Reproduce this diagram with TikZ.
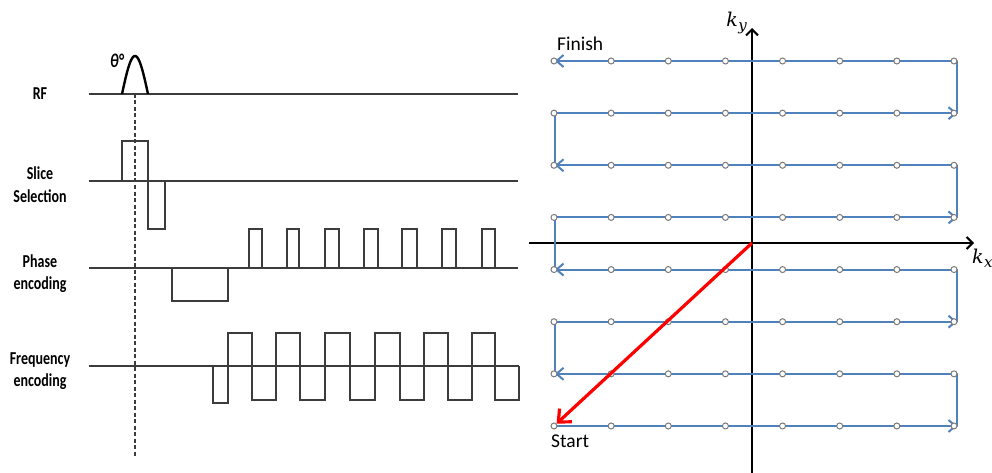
\documentclass[tikz,border=0pt]{standalone}
\usepackage{fontspec}
\setmainfont{Carlito}
\newfontfamily\kfont{DejaVu Serif}
\usetikzlibrary{arrows.meta}
\definecolor{kblue}{HTML}{4F81BD}
\definecolor{sig}{HTML}{3C3C3C}
\definecolor{dotgray}{HTML}{7A7A7A}
\newcommand{\siglabel}[1]{\scalebox{1}[1.3]{\begin{tabular}{@{}c@{}}#1\end{tabular}}}
\newcommand{\kvar}[1]{{\kfont\itshape\fontsize{19}{20}\selectfont k\kern0.5pt\raisebox{-4pt}{\fontsize{15}{16}\selectfont #1}}}
\begin{document}
\begin{tikzpicture}[x=1pt,y=-1pt,
  sigwave/.style={draw=sig,line width=1.2pt,line join=miter},
  rfpulse/.style={draw=black,line width=2.4pt},
  timemark/.style={draw=sig,line width=1.1pt,dash pattern=on 4pt off 2.5pt},
  chanlabel/.style={font=\fontsize{14}{17}\selectfont\bfseries,inner sep=0pt,anchor=center},
  kaxis/.style={draw=black,line width=2pt,-{Straight Barb[length=6pt,width=12pt]}},
  kline/.style={draw=kblue,line width=2pt,-{Straight Barb[length=7pt,width=12pt]}},
  kjoin/.style={draw=kblue,line width=2pt,line cap=round},
  kpt/.style={circle,draw=dotgray,fill=white,line width=1pt,minimum size=6pt,inner sep=0pt},
  ktext/.style={font=\fontsize{19.5}{22}\selectfont,inner sep=0pt},
  kmath/.style={inner sep=0pt},
  traj/.style={draw=red,line width=3.2pt,-{Straight Barb[length=10pt,width=18pt]}},
]
\useasboundingbox (0,0) rectangle (992,473);

% ---------- pulse sequence ----------
\node[chanlabel] (lrf) at (40,94.6) {\siglabel{RF}};
\node[chanlabel] (lss) at (40,186.6) {\siglabel{Slice\\Selection}};
\node[chanlabel] (lpe) at (40,274.5) {\siglabel{Phase\\encoding}};
\node[chanlabel] (lfe) at (40,371) {\siglabel{Frequency\\encoding}};
\node[font=\fontsize{15}{16}\selectfont\bfseries\itshape,inner sep=0pt] (theta) at (117,61) {\scalebox{1}[1.3]{θ°}};

% RF
\draw[sigwave] (89,94) -- (518,94);
\draw[rfpulse] plot[domain=0:1,samples=40,smooth] ({122+26*\x},{94-38*sin(180*\x)});
\draw[timemark] (135,94) -- (135,457);

% Slice selection
\draw[sigwave] (89,181) -- (518,181);
\draw[sigwave] (122,181) -- (122,141) -- (148,141) -- (148,229) -- (165,229) -- (165,181);

% Phase encoding
\draw[sigwave] (89,268) -- (518,268);
\draw[sigwave] (172,268) -- (172,301) -- (228,301) -- (228,268);
\foreach \a/\b in {249/262,287/299,325/339,364/378,402/417,442/456,482/495}
  \draw[sigwave] (\a,268) -- (\a,229) -- (\b,229) -- (\b,268);

% Frequency encoding
\draw[sigwave] (89,366) -- (519,366);
\draw[sigwave] (213,366) -- (213,403) -- (228,403) -- (228,333) -- (252,333) -- (252,400)
  -- (276,400) -- (276,333) -- (300,333) -- (300,400) -- (325,400) -- (325,333)
  -- (350,333) -- (350,400) -- (375,400) -- (375,333) -- (400,333) -- (400,400)
  -- (424,400) -- (424,333) -- (448,333) -- (448,400) -- (472,400) -- (472,333)
  -- (495,333) -- (495,400) -- (519,400) -- (519,366);

% ---------- k-space ----------
\coordinate (kyb) at (752,473);
\coordinate (kyt) at (752,28);
\coordinate (kxa) at (529,243);
\coordinate (kxb) at (974,243);
\coordinate (O) at (752,243);
\draw[kaxis] (kyb) -- (kyt);
\draw[kaxis] (kxa) -- (kxb);
\node[kmath,anchor=base east] (kylab) at (747,27) {\kvar{y}};
\node[kmath,anchor=base west] (kxlab) at (972,263) {\kvar{x}};

\foreach \r in {1,...,8} {
  \coordinate (L\r) at (555,{61+(\r-1)*52.14});
  \coordinate (R\r) at (957,{61+(\r-1)*52.14});
}
\draw[kline] (L8) -- (R8);
\draw[kjoin] (R8) -- (R7);
\draw[kline] (R7) -- (L7);
\draw[kjoin] (L7) -- (L6);
\draw[kline] (L6) -- (R6);
\draw[kjoin] (R6) -- (R5);
\draw[kline] (R5) -- (L5);
\draw[kjoin] (L5) -- (L4);
\draw[kline] (L4) -- (R4);
\draw[kjoin] (R4) -- (R3);
\draw[kline] (R3) -- (L3);
\draw[kjoin] (L3) -- (L2);
\draw[kline] (L2) -- (R2);
\draw[kjoin] (R2) -- (R1);
\draw[kline] (R1) -- (L1);

\foreach \r in {1,...,8}
  \foreach \c in {1,...,8}
    \node[kpt] (p\r\c) at ({554+(\c-1)*57.14},{61+(\r-1)*52.14}) {};

\draw[traj] (O) -- (p81);

\node[ktext,anchor=base west] (fin) at (557,50.5) {Finish};
\node[ktext,anchor=base west] (sta) at (551,447) {Start};
\end{tikzpicture}
\end{document}
